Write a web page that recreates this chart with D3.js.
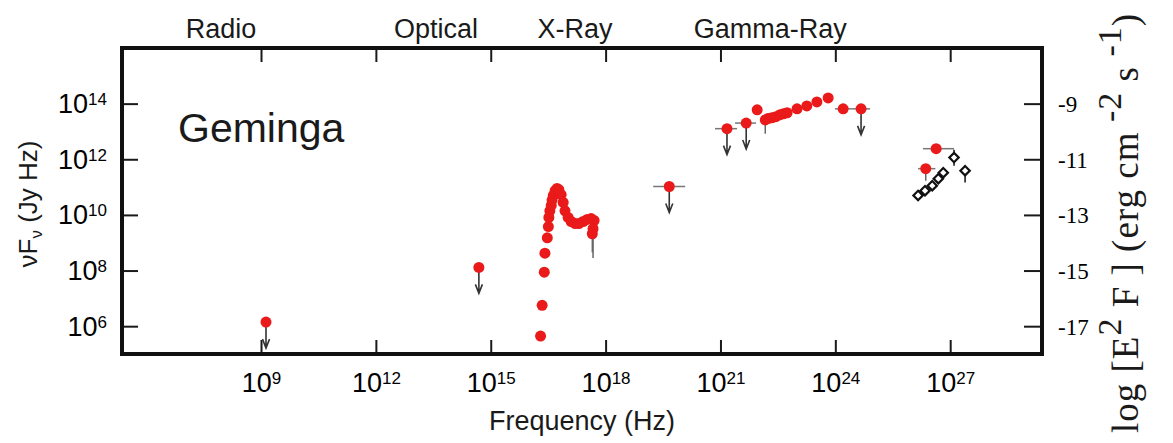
<!DOCTYPE html>
<html>
<head>
<meta charset="utf-8">
<script src="https://cdnjs.cloudflare.com/ajax/libs/d3/7.8.5/d3.min.js"></script>
<style>
  html, body { margin: 0; padding: 0; background: #fff; }
  svg { display: block; }
  .sans  { font-family: 'Liberation Sans', Arial, Helvetica, sans-serif; fill: #1a1a1a; }
  .serif { font-family: 'Liberation Serif', 'Times New Roman', serif; fill: #1a1a1a; }
</style>
</head>
<body>
<svg id="chart" width="1173" height="443"></svg>
<script>

// Band names written above the frame, centred on a frequency (Hz).
const bandNames = [ 'Radio', 'Optical', 'X-Ray', 'Gamma-Ray' ];
const bandFreqs = [ 9.0e7, 3.7e13, 1.6e17, 2.0e22 ];

// Tick values. Right hand labels are log10 of E^2 F in erg cm^-2 s^-1.
const xTickValues  = [ 1e9, 1e12, 1e15, 1e18, 1e21, 1e24, 1e27 ];
const yTickValues  = [ 1e6, 1e8, 1e10, 1e12, 1e14 ];
const yRightLabels = [ '-17', '-15', '-13', '-11', '-9' ];

// Upper limits : [ frequency (Hz), nuFnu (Jy Hz), band low, band high ].
const upperLimits = [
  [ 1.35e9 , 1.4e6   ],
  [ 4.9e14 , 1.3e8   ],
  [ 4.6e19 , 1.05e11 , 1.75e19, 1.2e20 ],
  [ 1.48e21, 1.26e13 , 7.2e20 , 2.7e21 ],
  [ 4.7e21 , 2.0e13  , 2.4e21 , 8.5e21 ],
  [ 4.7e24 , 6.5e13  , 2.6e24 , 8.1e24 ]
];

// Optical/UV to X-ray spectrum : [ frequency, nuFnu ].
const xraySpectrum = [
  [ 2.0e16 , 4.4e5  ], [ 2.2e16 , 5.6e6  ], [ 2.5e16 , 8.7e7  ], [ 2.6e16 , 4.2e8  ],
  [ 3.0e16 , 1.5e9  ], [ 3.2e16 , 3.8e9  ], [ 3.3e16 , 8.1e9  ], [ 3.5e16 , 1.4e10 ],
  [ 3.8e16 , 2.2e10 ], [ 4.0e16 , 3.4e10 ], [ 4.3e16 , 5.0e10 ], [ 4.8e16 , 7.4e10 ],
  [ 5.4e16 , 8.9e10 ], [ 6.0e16 , 8.1e10 ], [ 6.9e16 , 5.4e10 ], [ 7.8e16 , 2.8e10 ],
  [ 8.7e16 , 1.4e10 ], [ 1.05e17, 8.1e9  ], [ 1.26e17, 5.8e9  ], [ 1.6e17 , 4.9e9  ],
  [ 2.0e17 , 4.9e9  ], [ 2.6e17 , 5.8e9  ], [ 3.3e17 , 6.9e9  ], [ 4.2e17 , 7.4e9  ],
  [ 5.0e17 , 6.3e9  ], [ 4.7e17 , 3.2e9  ], [ 4.5e17 , 2.1e9  ]
];

// Last X-ray points have error bars : [ frequency, nuFnu, flux low ].
const xrayErrors = [
  [ 4.7e17, 3.2e9, 2.8e8 ],
  [ 4.5e17, 2.1e9, 4.5e8 ]
];

// Gamma-ray detections : [ frequency, nuFnu, band low, band high, flux low ].
const gammaPoints = [
  [ 9.1e21 , 6.0e13 ],
  [ 1.48e22, 2.6e13 , null, null, 8.3e12 ],
  [ 1.74e22, 2.9e13 ], [ 2.2e22 , 3.1e13 ], [ 2.8e22, 3.4e13 ], [ 3.6e22, 4.0e13 ],
  [ 4.4e22 , 4.3e13 ], [ 5.5e22 , 4.7e13 ], [ 1.0e23, 6.5e13 ], [ 1.8e23, 8.3e13 ],
  [ 3.3e23 , 1.15e14 ], [ 6.5e23 , 1.6e14 ],
  [ 1.6e24 , 6.5e13 , 9.8e23, 2.6e24 ]
];

// TeV points (red) : [ frequency, nuFnu, band low, band high, flux low ].
const tevPoints = [
  [ 4.3e26, 2.4e12 , 1.95e26, 1.26e27 ],
  [ 2.3e26, 4.6e11 , 1.45e26, 4.1e26 , 1.7e11 ]
];

// Open diamonds : [ frequency, nuFnu, flux low, flux high ].
const diamondPoints = [
  [ 1.45e26, 5.0e10 , 4.3e10 , 5.8e10  ],
  [ 2.2e26 , 7.4e10 , 6.4e10 , 8.6e10  ],
  [ 3.4e26 , 1.12e11, 9.6e10 , 1.3e11  ],
  [ 4.9e26 , 2.0e11 , 1.7e11 , 2.3e11  ],
  [ 6.6e26 , 3.3e11 , 2.8e11 , 3.9e11  ],
  [ 1.26e27, 1.15e12, 5.9e11 , 2.2e12  ],
  [ 2.45e27, 3.9e11 , 1.45e11, 5.9e11  ]
];


// The Chart Builder class.
class ChartBuilder {

  constructor ( ) {
    // Sizes.
    this.chartWidth  = 1173;
    this.chartHeight = 443;
    this.margin      = { top: 48, bottom: 89, left: 122, right: 131 };
    this.innerWidth  = this.chartWidth  - this.margin.left - this.margin.right;
    this.innerHeight = this.chartHeight - this.margin.top  - this.margin.bottom;

    // Styles.
    this.red       = '#ea1a1a';
    this.dotRadius = 5.5;
    this.arrowLen  = 26;

    this.chart  = d3.select( '#chart' );
    this.canvas = this.chart.append( 'g' );
    this.and    = this;
  }

  makeCanvas ( ) {
    this.chart.attr( 'viewBox', `0 0 ${this.chartWidth} ${this.chartHeight}` );
    this.canvas.attr( 'transform', `translate( ${this.margin.left}, ${this.margin.top} )` );
    return this;
  }

  setScales ( ) {
    this.x = d3.scaleLog( )
      .domain( [ 2.34e5, 2.5e29 ] )
      .range( [ 0, this.innerWidth ] );
    this.y = d3.scaleLog( )
      .domain( [ 1e5, 1e16 ] )
      .range( [ this.innerHeight, 0 ] );
    return this;
  }

  // Removes the domain path and thickens tick lines.
  styleAxis ( grp ) {
    grp.select( '.domain' ).remove( );
    grp.attr( 'font-size', null ).attr( 'font-family', null );
    grp.selectAll( '.tick line' ).attr( 'stroke', '#1a1a1a' ).attr( 'stroke-width', 2 );
  }

  // Writes "10" with a raised exponent.
  powerLabel ( sel ) {
    sel.text( null ).each( function ( d ) {
      const txt = d3.select( this );
      txt.append( 'tspan' ).text( '10' );
      txt.append( 'tspan' )
        .attr( 'dy', -8 )
        .attr( 'font-size', 17 )
        .text( Math.round( Math.log10( d ) ) );
    } );
  }

  drawAxes ( ) {
    const bottom = d3.axisBottom( this.x ).tickValues( xTickValues )
      .tickSizeInner( -14 ).tickSizeOuter( 0 ).tickFormat( d => d );
    const top    = d3.axisTop( this.x ).tickValues( xTickValues )
      .tickSizeInner( -14 ).tickSizeOuter( 0 ).tickFormat( '' );
    const left   = d3.axisLeft( this.y ).tickValues( yTickValues )
      .tickSizeInner( -16 ).tickSizeOuter( 0 ).tickFormat( d => d );
    const right  = d3.axisRight( this.y ).tickValues( yTickValues )
      .tickSizeInner( -18 ).tickSizeOuter( 0 ).tickFormat( ( d,i ) => yRightLabels[i] );

    const xb = this.canvas.append( 'g' ).attr( 'class', 'sans' )
      .attr( 'transform', `translate( 0, ${this.innerHeight} )` ).call( bottom );
    this.styleAxis( xb );
    xb.selectAll( '.tick text' )
      .attr( 'y', 38 ).attr( 'dy', 0 ).attr( 'font-size', 27 )
      .call( sel => this.powerLabel( sel ) );

    const xt = this.canvas.append( 'g' ).call( top );
    this.styleAxis( xt );

    const yl = this.canvas.append( 'g' ).attr( 'class', 'sans' ).call( left );
    this.styleAxis( yl );
    yl.selectAll( '.tick text' )
      .attr( 'x', -15 ).attr( 'dy', 9 ).attr( 'font-size', 27 )
      .call( sel => this.powerLabel( sel ) );

    const yr = this.canvas.append( 'g' ).attr( 'class', 'serif' )
      .attr( 'transform', `translate( ${this.innerWidth}, 0 )` ).call( right );
    this.styleAxis( yr );
    yr.selectAll( '.tick text' )
      .attr( 'x', 16 ).attr( 'dy', 8 ).attr( 'font-size', 23 );
    return this;
  }

  drawFrame ( ) {
    this.canvas.append( 'rect' )
      .attr( 'width', this.innerWidth )
      .attr( 'height', this.innerHeight )
      .attr( 'fill', 'none' )
      .attr( 'stroke', '#111' )
      .attr( 'stroke-width', 4 );
    return this;
  }

  drawLabels ( ) {
    // Bands above the frame.
    this.canvas.append( 'g' ).attr( 'class', 'sans' )
      .selectAll( 'text' ).data( bandNames ).join( 'text' )
      .attr( 'x', ( d,i ) => this.x( bandFreqs[i] ) )
      .attr( 'y', -10 )
      .attr( 'text-anchor', 'middle' )
      .attr( 'font-size', 27 )
      .text( d => d );

    // Source name.
    this.canvas.append( 'text' ).attr( 'class', 'sans' )
      .attr( 'x', 56 ).attr( 'y', 94 )
      .attr( 'font-size', 41 )
      .text( 'Geminga' );

    // X axis title.
    this.canvas.append( 'text' ).attr( 'class', 'sans' )
      .attr( 'x', this.innerWidth / 2 ).attr( 'y', 382 )
      .attr( 'text-anchor', 'middle' )
      .attr( 'font-size', 27 )
      .text( 'Frequency (Hz)' );

    // Left title.
    const lt = this.chart.append( 'text' ).attr( 'class', 'sans' )
      .attr( 'transform', 'translate( 37, 204 ) rotate( -90 )' )
      .attr( 'text-anchor', 'middle' )
      .attr( 'font-size', 26 );
    lt.append( 'tspan' ).text( 'νF' );
    lt.append( 'tspan' ).attr( 'dy', 5 ).attr( 'font-size', 17 ).text( 'ν' );
    lt.append( 'tspan' ).attr( 'dy', -5 ).text( ' (Jy Hz)' );

    // Right title.
    const rt = this.chart.append( 'text' ).attr( 'class', 'serif' )
      .attr( 'transform', 'translate( 1138, 433 ) rotate( -90 )' )
      .attr( 'font-size', 37 )
      .attr( 'letter-spacing', 1 );
    rt.append( 'tspan' ).text( 'log [E' );
    rt.append( 'tspan' ).attr( 'dy', -17 ).attr( 'font-size', 34 ).text( '2' );
    rt.append( 'tspan' ).attr( 'dy', 17 ).text( ' F ] (erg cm' );
    rt.append( 'tspan' ).attr( 'dy', -17 ).attr( 'font-size', 34 ).text( ' -2' );
    rt.append( 'tspan' ).attr( 'dy', 17 ).text( ' s' );
    rt.append( 'tspan' ).attr( 'dy', -17 ).attr( 'font-size', 34 ).text( ' -1' );
    rt.append( 'tspan' ).attr( 'dy', 17 ).text( ')' );
    return this;
  }

  // Horizontal band bars and vertical error bars.
  drawErrorBars ( ) {
    const bands = [ ...upperLimits, ...gammaPoints, ...tevPoints ].filter( d => d[2] );
    this.canvas.append( 'g' )
      .selectAll( 'line' ).data( bands ).join( 'line' )
      .attr( 'x1', d => this.x( d[2] ) )
      .attr( 'x2', d => this.x( d[3] ) )
      .attr( 'y1', d => this.y( d[1] ) )
      .attr( 'y2', d => this.y( d[1] ) )
      .attr( 'stroke', '#777' )
      .attr( 'stroke-width', 1.5 );

    const downs = [ ...xrayErrors.map( d => [ d[0], d[1], d[2] ] ),
                    ...gammaPoints.filter( d => d[4] ).map( d => [ d[0], d[1], d[4] ] ),
                    ...tevPoints.filter( d => d[4] ).map( d => [ d[0], d[1], d[4] ] ) ];
    this.canvas.append( 'g' )
      .selectAll( 'line' ).data( downs ).join( 'line' )
      .attr( 'x1', d => this.x( d[0] ) )
      .attr( 'x2', d => this.x( d[0] ) )
      .attr( 'y1', d => this.y( d[1] ) )
      .attr( 'y2', d => this.y( d[2] ) )
      .attr( 'stroke', '#666' )
      .attr( 'stroke-width', 1.5 );
    return this;
  }

  drawUpperLimits ( ) {
    const len = this.arrowLen;
    this.canvas.append( 'g' )
      .selectAll( 'path' ).data( upperLimits ).join( 'path' )
      .attr( 'transform', d => `translate( ${this.x( d[0] )}, ${this.y( d[1] )} )` )
      .attr( 'd', `M0,0V${len}M-3.5,${len - 9}L0,${len}L3.5,${len - 9}` )
      .attr( 'fill', 'none' )
      .attr( 'stroke', '#333' )
      .attr( 'stroke-width', 1.6 );
    return this;
  }

  drawDots ( ) {
    const all = [ ...xraySpectrum, ...gammaPoints, ...tevPoints, ...upperLimits ];
    this.canvas.append( 'g' )
      .selectAll( 'circle' ).data( all ).join( 'circle' )
      .attr( 'cx', d => this.x( d[0] ) )
      .attr( 'cy', d => this.y( d[1] ) )
      .attr( 'r', this.dotRadius )
      .attr( 'fill', this.red );
    return this;
  }

  drawDiamonds ( ) {
    const g = this.canvas.append( 'g' );
    g.selectAll( 'line' ).data( diamondPoints ).join( 'line' )
      .attr( 'x1', d => this.x( d[0] ) )
      .attr( 'x2', d => this.x( d[0] ) )
      .attr( 'y1', d => this.y( d[2] ) )
      .attr( 'y2', d => this.y( d[3] ) )
      .attr( 'stroke', '#111' )
      .attr( 'stroke-width', 1.5 );
    g.selectAll( 'path' ).data( diamondPoints ).join( 'path' )
      .attr( 'd', d3.symbol( d3.symbolSquare, 44 ) )
      .attr( 'transform', d => `translate( ${this.x( d[0] )}, ${this.y( d[1] )} ) rotate( 45 )` )
      .attr( 'fill', '#fff' )
      .attr( 'stroke', '#111' )
      .attr( 'stroke-width', 2.2 );
    return this;
  }
}

const getTheChart = new ChartBuilder( );
getTheChart.makeCanvas( ).setScales( ).drawAxes( ).drawFrame( ).drawLabels( )
  .drawErrorBars( ).drawUpperLimits( ).drawDots( ).and.drawDiamonds( );

</script>
</body>
</html>
